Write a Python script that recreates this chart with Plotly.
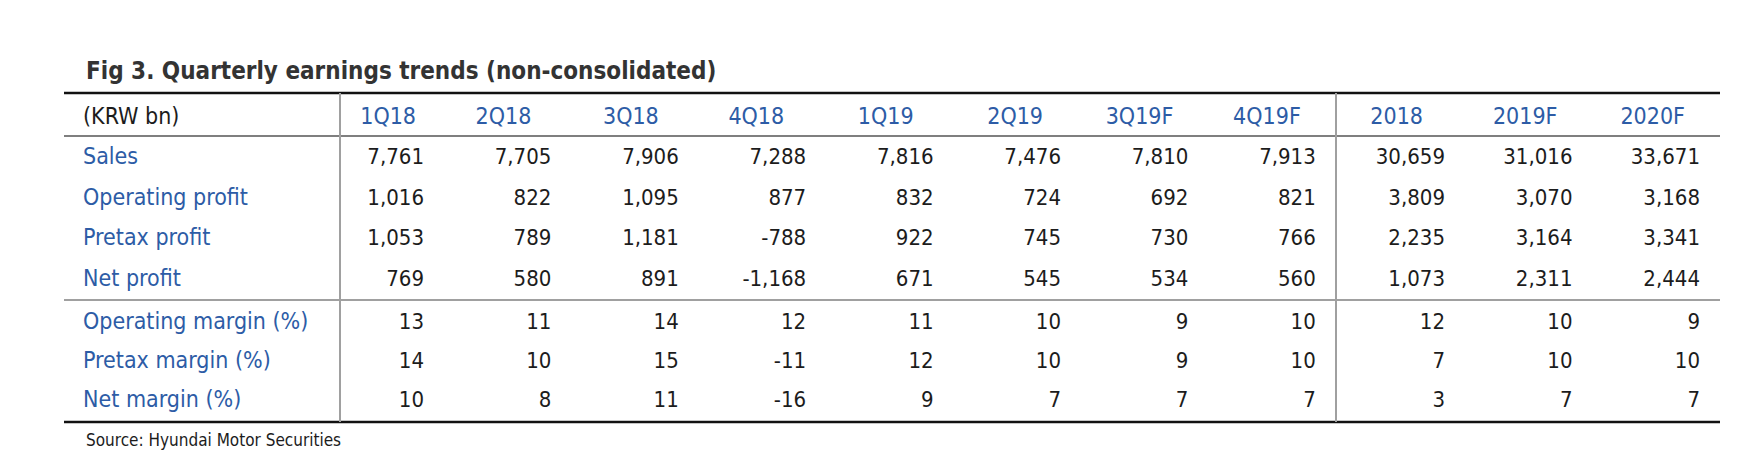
import plotly.graph_objects as go

# table contents
title = "Fig 3. Quarterly earnings trends (non-consolidated)"
unit_label = "(KRW bn)"
periods = ["1Q18", "2Q18", "3Q18", "4Q18", "1Q19", "2Q19", "3Q19F", "4Q19F",
           "2018", "2019F", "2020F"]
row_labels = ["Sales", "Operating profit", "Pretax profit", "Net profit",
              "Operating margin (%)", "Pretax margin (%)", "Net margin (%)"]

sales = [7761, 7705, 7906, 7288, 7816, 7476, 7810, 7913, 30659, 31016, 33671]
operating_profit = [1016, 822, 1095, 877, 832, 724, 692, 821, 3809, 3070, 3168]
pretax_profit = [1053, 789, 1181, -788, 922, 745, 730, 766, 2235, 3164, 3341]
net_profit = [769, 580, 891, -1168, 671, 545, 534, 560, 1073, 2311, 2444]
operating_margin = [13, 11, 14, 12, 11, 10, 9, 10, 12, 10, 9]
pretax_margin = [14, 10, 15, -11, 12, 10, 9, 10, 7, 10, 10]
net_margin = [10, 8, 11, -16, 9, 7, 7, 7, 3, 7, 7]

source = "Source: Hyundai Motor Securities"

rows = [sales, operating_profit, pretax_profit, net_profit,
        operating_margin, pretax_margin, net_margin]

W, H = 1754, 476
FONT = "DejaVu Sans Condensed, Liberation Sans Narrow, sans-serif"
BLUE = "#2d5ca6"
INK = "#1c1c1c"
LABEL = 23
NUM = 22

# layout in pixel units
left, right = 56, 1712
div1, div2 = 332, 1328
y_top, y_head_line, y_mid_line, y_bottom = 85, 128, 292, 414
y_head = 110
row_y = [150, 191, 231, 272, 315, 354, 393]
label_x = 75
col_x = [416 + 127.4 * k for k in range(8)] + [1437 + 127.5 * k for k in range(3)]
head_shift = [8, 20, 20, 22, 20, 18, 15, 15, 22, 15, 15]

fig = go.Figure()

# header row
fig.add_trace(go.Scatter(
    x=[label_x], y=[y_head], mode="text", text=[unit_label],
    textposition="middle right", textfont=dict(family=FONT, size=LABEL, color=INK),
    hoverinfo="skip"))
fig.add_trace(go.Scatter(
    x=[c - s for c, s in zip(col_x, head_shift)], y=[y_head] * len(periods),
    mode="text", text=periods, textposition="middle left",
    textfont=dict(family=FONT, size=LABEL, color=BLUE), hoverinfo="skip"))

# row labels
fig.add_trace(go.Scatter(
    x=[label_x] * len(row_labels), y=row_y, mode="text", text=row_labels,
    textposition="middle right", textfont=dict(family=FONT, size=LABEL, color=BLUE),
    hoverinfo="skip"))

# values
for vals, yy in zip(rows, row_y):
    fig.add_trace(go.Scatter(
        x=col_x, y=[yy] * len(vals), mode="text",
        text=[f"{v:,}" for v in vals], textposition="middle left",
        textfont=dict(family=FONT, size=NUM, color=INK), hoverinfo="skip"))

# rules
line_specs = [
    (left, y_top, right, y_top, "#111111", 2.5),
    (left, y_head_line, right, y_head_line, "#555555", 1.5),
    (left, y_mid_line, right, y_mid_line, "#a0a0a0", 2),
    (left, y_bottom, right, y_bottom, "#111111", 2.5),
    (div1, y_top, div1, y_bottom, "#a0a0a0", 2),
    (div2, y_top, div2, y_bottom, "#a0a0a0", 2),
]
for x0, y0, x1, y1, c, w in line_specs:
    fig.add_shape(type="line", x0=x0, y0=y0, x1=x1, y1=y1, xref="x", yref="y",
                  line=dict(color=c, width=w), layer="below")

fig.add_annotation(x=76, y=63, xref="x", yref="y", text=f"<b>{title}</b>",
                   showarrow=False, xanchor="left", yanchor="middle",
                   font=dict(family=FONT, size=24, color="#333333"))
fig.add_annotation(x=76, y=432, xref="x", yref="y", text=source,
                   showarrow=False, xanchor="left", yanchor="middle",
                   font=dict(family=FONT, size=17, color=INK))

fig.update_layout(
    width=W, height=H, margin=dict(l=0, r=0, t=0, b=0),
    paper_bgcolor="white", plot_bgcolor="white", showlegend=False,
    xaxis=dict(range=[0, W], visible=False, fixedrange=True),
    yaxis=dict(range=[H, 0], visible=False, fixedrange=True),
)

fig.write_html("out.html")
